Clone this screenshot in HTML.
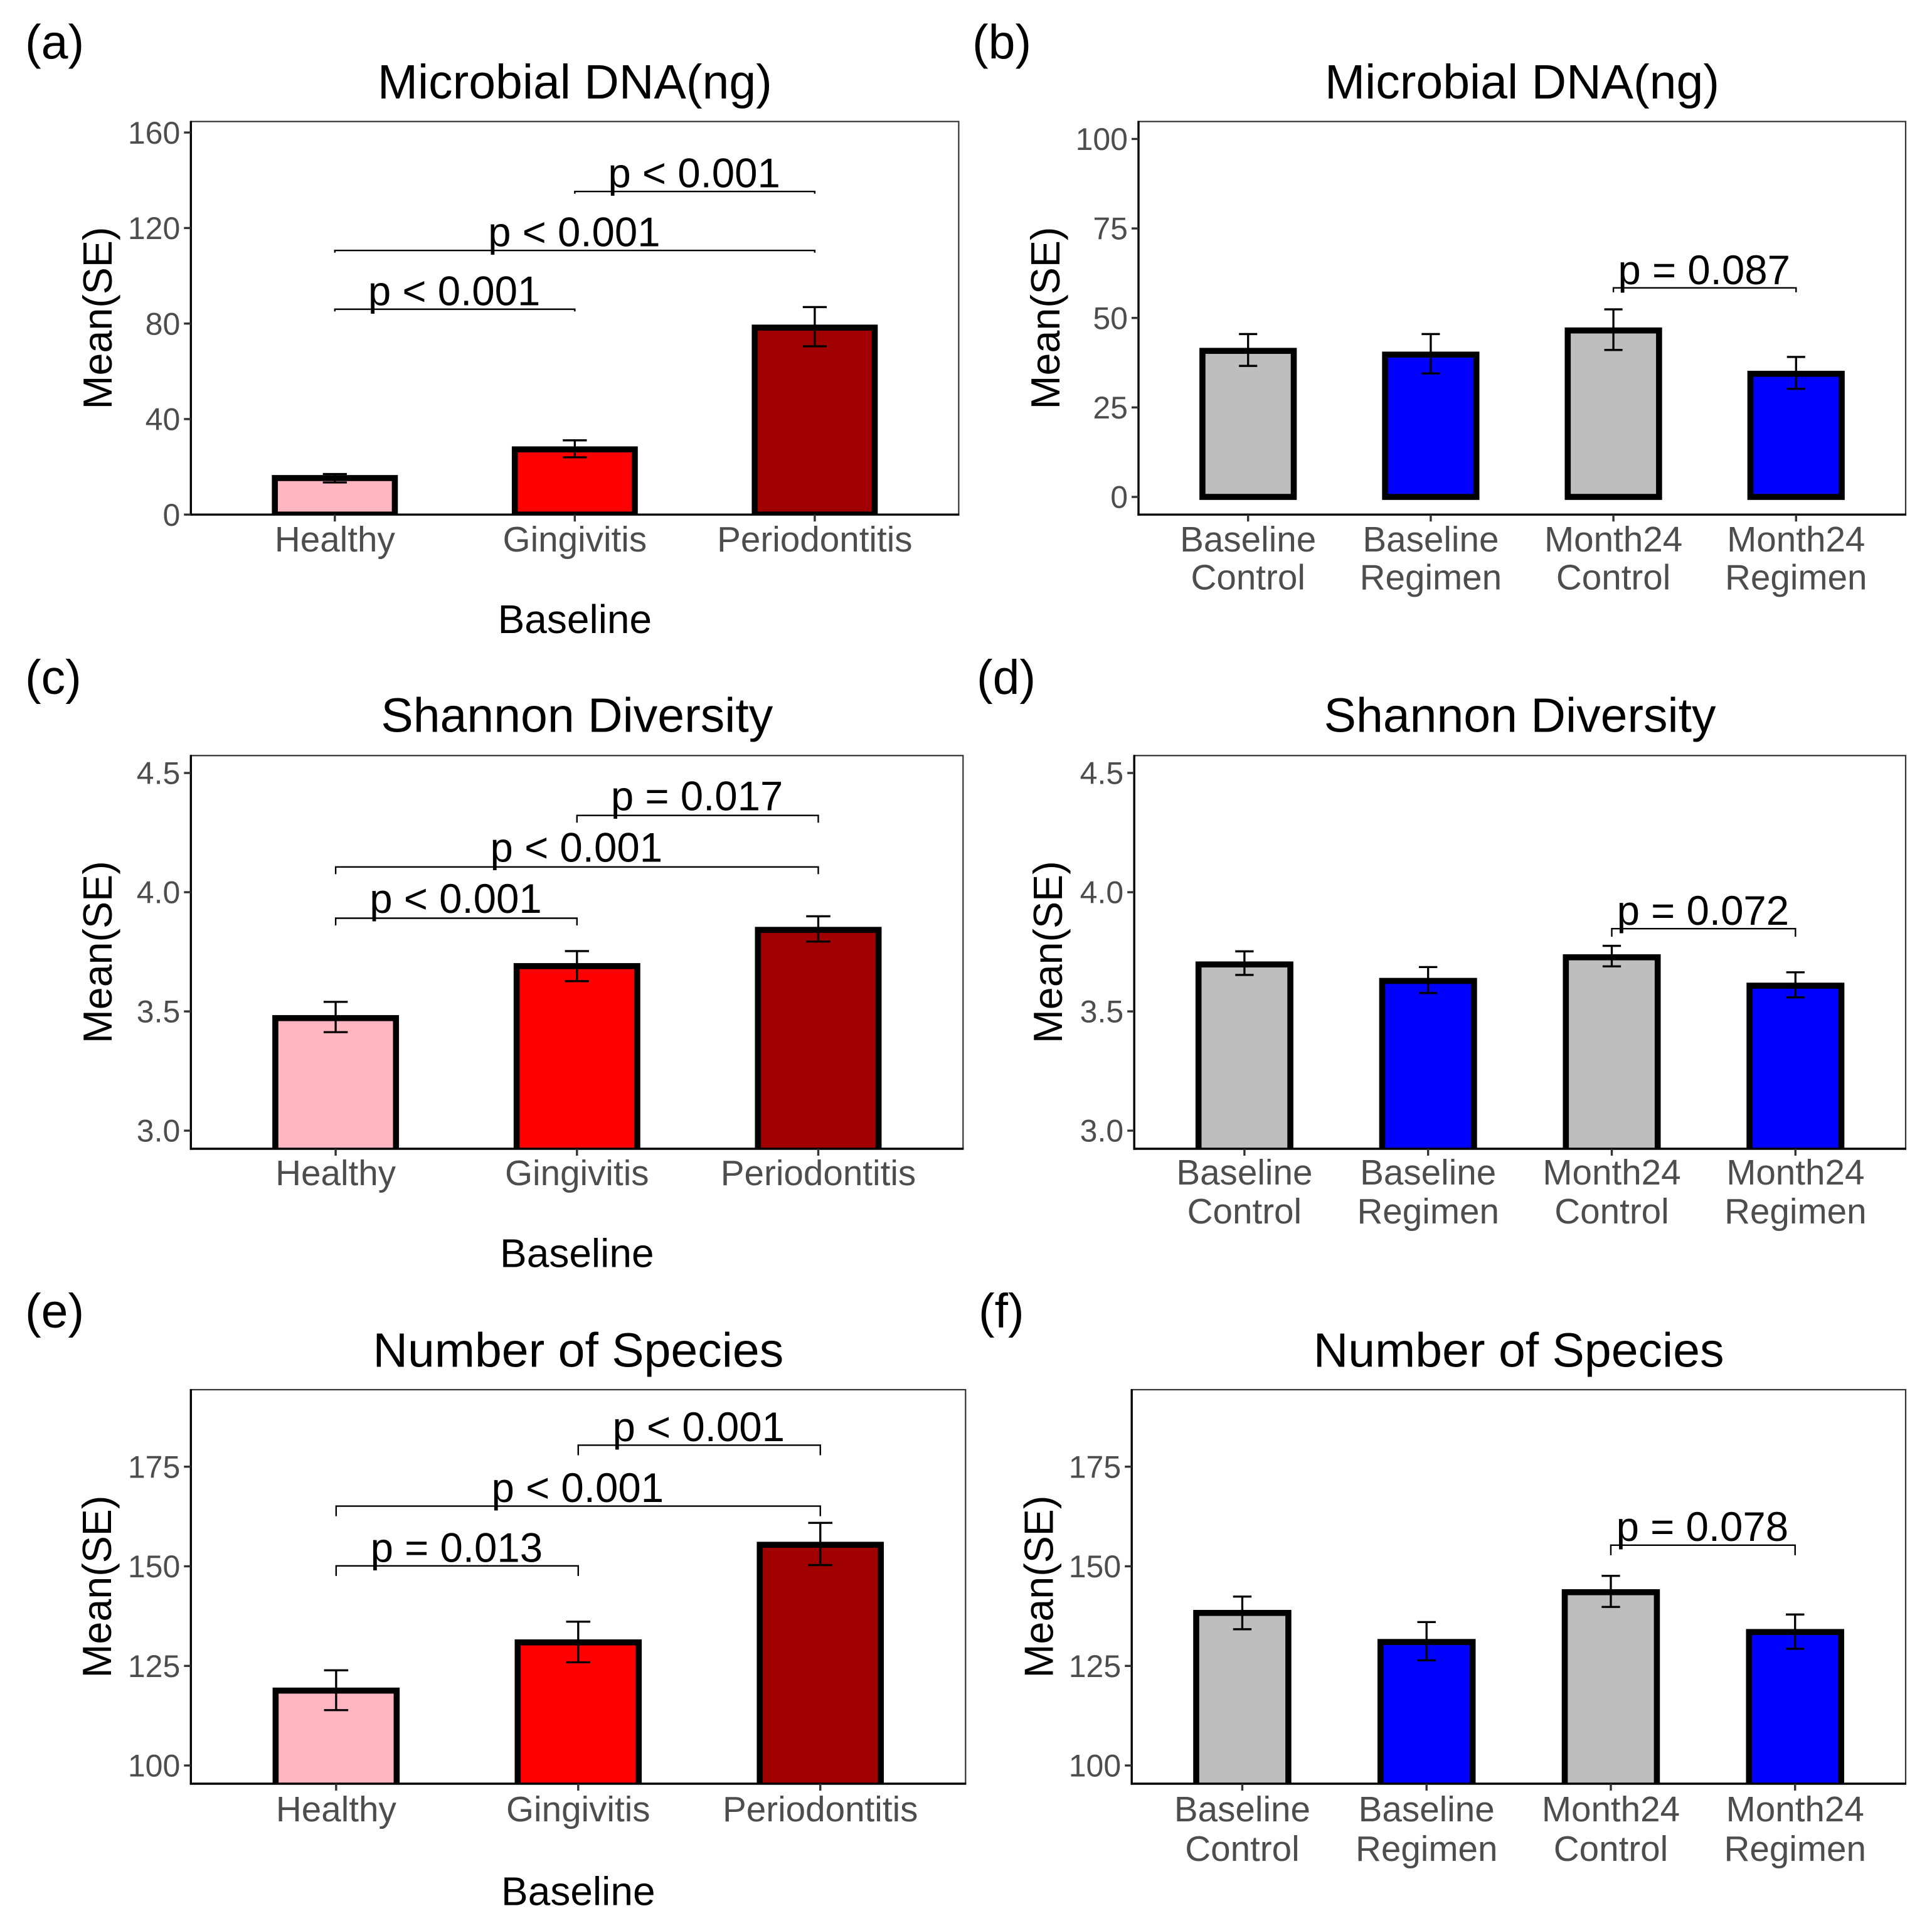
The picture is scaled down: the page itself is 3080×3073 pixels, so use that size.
<!DOCTYPE html>
<html lang="en">
<head>
<meta charset="utf-8">
<title>Microbial DNA, Shannon Diversity and Number of Species</title>
<style>
html,body{margin:0;padding:0;background:#fff;}
svg{display:block;font-family:"Liberation Sans",Arial,sans-serif;}
</style>
</head>
<body>
<svg id="figure" xmlns="http://www.w3.org/2000/svg" width="3080" height="3073" viewBox="0 0 3080 3073"></svg>
<script>
// ---- categories ----
const stageCategories = ["Healthy", "Gingivitis", "Periodontitis"];
const visitCategories = [["Baseline", "Control"], ["Baseline", "Regimen"], ["Month24", "Control"], ["Month24", "Regimen"]];
const stageColors = ["#FFB6C1", "#FF0000", "#A00000"];
const visitColors = ["#BEBEBE", "#0000FF", "#BEBEBE", "#0000FF"];

// ---- panel (a) ----
const dnaStageMeans = [15.3, 27.3, 78.3];
const dnaStageUpper = [17.0, 31.1, 86.9];
const dnaStageLower = [13.45, 24.0, 70.5];
const dnaStageTicks = [0, 40, 80, 120, 160];
const dnaStageDomain = [0, 164.6];
const dnaStageBracketFrom = [0, 0, 1];
const dnaStageBracketTo = [1, 2, 2];
const dnaStageBracketValue = [86, 110.6, 135.3];
const dnaStageBracketLabel = ["p < 0.001", "p < 0.001", "p < 0.001"];

// ---- panel (b) ----
const dnaVisitMeans = [40.8, 39.75, 46.5, 34.4];
const dnaVisitUpper = [45.5, 45.5, 52.4, 39.1];
const dnaVisitLower = [36.6, 34.5, 41.05, 30.2];
const dnaVisitTicks = [0, 25, 50, 75, 100];
const dnaVisitDomain = [-4.94, 104.87];
const dnaVisitBracketFrom = [2];
const dnaVisitBracketTo = [3];
const dnaVisitBracketValue = [58.4];
const dnaVisitBracketLabel = ["p = 0.087"];

// ---- panel (c) ----
const shannonStageMeans = [3.472, 3.69, 3.842];
const shannonStageUpper = [3.54, 3.753, 3.899];
const shannonStageLower = [3.413, 3.627, 3.793];
const shannonTicks = [3.0, 3.5, 4.0, 4.5];
const shannonTickLabels = ["3.0", "3.5", "4.0", "4.5"];
const shannonDomain = [2.924, 4.573];
const shannonStageBracketFrom = [0, 0, 1];
const shannonStageBracketTo = [1, 2, 2];
const shannonStageBracketValue = [3.891, 4.106, 4.322];
const shannonStageBracketLabel = ["p < 0.001", "p < 0.001", "p = 0.017"];

// ---- panel (d) ----
const shannonVisitMeans = [3.697, 3.628, 3.727, 3.608];
const shannonVisitUpper = [3.752, 3.686, 3.775, 3.664];
const shannonVisitLower = [3.653, 3.577, 3.689, 3.559];
const shannonVisitBracketFrom = [2];
const shannonVisitBracketTo = [3];
const shannonVisitBracketValue = [3.847];
const shannonVisitBracketLabel = ["p = 0.072"];

// ---- panel (e) ----
const speciesStageMeans = [118.8, 130.9, 155.4];
const speciesStageUpper = [123.9, 136.1, 160.9];
const speciesStageLower = [113.9, 125.9, 150.3];
const speciesTicks = [100, 125, 150, 175];
const speciesDomain = [95.43, 194.33];
const speciesStageBracketFrom = [0, 0, 1];
const speciesStageBracketTo = [1, 2, 2];
const speciesStageBracketValue = [150.1, 165.1, 180.4];
const speciesStageBracketLabel = ["p = 0.013", "p < 0.001", "p < 0.001"];

// ---- panel (f) ----
const speciesVisitMeans = [138.3, 131, 143.5, 133.5];
const speciesVisitUpper = [142.4, 136, 147.6, 137.9];
const speciesVisitLower = [134.2, 126.4, 139.8, 129.3];
const speciesVisitBracketFrom = [2];
const speciesVisitBracketTo = [3];
const speciesVisitBracketValue = [155.3];
const speciesVisitBracketLabel = ["p = 0.078"];

const panels = [
  {id:"a", title:"Microbial DNA(ng)", cats:stageCategories, colors:stageColors, means:dnaStageMeans, upper:dnaStageUpper, lower:dnaStageLower, ticks:dnaStageTicks, tickLabels:dnaStageTicks, domain:dnaStageDomain, bFrom:dnaStageBracketFrom, bTo:dnaStageBracketTo, bVal:dnaStageBracketValue, bLab:dnaStageBracketLabel, xTitle:"Baseline",
   box:{l:304.3,r:1528.4,t:193.7,b:820.2}, tip:3.5, gap:6.6, letterX:40, letterY:93.5, titleY:157.2, yTitleX:178, tickY:878.8, lineGap:60.5, xTitleY:1008.8},
  {id:"b", title:"Microbial DNA(ng)", cats:visitCategories, colors:visitColors, means:dnaVisitMeans, upper:dnaVisitUpper, lower:dnaVisitLower, ticks:dnaVisitTicks, tickLabels:dnaVisitTicks, domain:dnaVisitDomain, bFrom:dnaVisitBracketFrom, bTo:dnaVisitBracketTo, bVal:dnaVisitBracketValue, bLab:dnaVisitBracketLabel,
   box:{l:1815,r:3038,t:193.7,b:820.2}, tip:7, gap:6, letterX:1550, letterY:93.5, titleY:157.2, yTitleX:1689, tickY:878.8, lineGap:60.5},
  {id:"c", title:"Shannon Diversity", cats:stageCategories, colors:stageColors, means:shannonStageMeans, upper:shannonStageUpper, lower:shannonStageLower, ticks:shannonTicks, tickLabels:shannonTickLabels, domain:shannonDomain, bFrom:shannonStageBracketFrom, bTo:shannonStageBracketTo, bVal:shannonStageBracketValue, bLab:shannonStageBracketLabel, xTitle:"Baseline",
   box:{l:304.3,r:1535.3,t:1204.3,b:1831}, tip:11.5, gap:8.3, letterX:40, letterY:1105.8, titleY:1166.4, yTitleX:178, tickY:1889, lineGap:62, xTitleY:2019.7},
  {id:"d", title:"Shannon Diversity", cats:visitCategories, colors:visitColors, means:shannonVisitMeans, upper:shannonVisitUpper, lower:shannonVisitLower, ticks:shannonTicks, tickLabels:shannonTickLabels, domain:shannonDomain, bFrom:shannonVisitBracketFrom, bTo:shannonVisitBracketTo, bVal:shannonVisitBracketValue, bLab:shannonVisitBracketLabel,
   box:{l:1808.2,r:3038,t:1204.3,b:1831}, tip:12.8, gap:6.4, letterX:1557, letterY:1105.8, titleY:1166.4, yTitleX:1693, tickY:1888, lineGap:62},
  {id:"e", title:"Number of Species", cats:stageCategories, colors:stageColors, means:speciesStageMeans, upper:speciesStageUpper, lower:speciesStageLower, ticks:speciesTicks, tickLabels:speciesTicks, domain:speciesDomain, bFrom:speciesStageBracketFrom, bTo:speciesStageBracketTo, bVal:speciesStageBracketValue, bLab:speciesStageBracketLabel, xTitle:"Baseline",
   box:{l:304.3,r:1539.3,t:2215,b:2843}, tip:16, gap:6.6, letterX:40, letterY:2115.8, titleY:2178.4, yTitleX:177, tickY:2903, lineGap:62, xTitleY:3036.7},
  {id:"f", title:"Number of Species", cats:visitCategories, colors:visitColors, means:speciesVisitMeans, upper:speciesVisitUpper, lower:speciesVisitLower, ticks:speciesTicks, tickLabels:speciesTicks, domain:speciesDomain, bFrom:speciesVisitBracketFrom, bTo:speciesVisitBracketTo, bVal:speciesVisitBracketValue, bLab:speciesVisitBracketLabel,
   box:{l:1804.2,r:3038,t:2215,b:2843}, tip:16, gap:6.6, letterX:1560, letterY:2115.8, titleY:2178.4, yTitleX:1678.4, tickY:2903, lineGap:63}
];

const NS = "http://www.w3.org/2000/svg";
const root = document.getElementById("figure");

function make(tag, attrs, parent, text) {
  const el = document.createElementNS(NS, tag);
  for (const k in attrs) el.setAttribute(k, attrs[k]);
  if (text !== undefined) el.textContent = text;
  parent.appendChild(el);
  return el;
}

function drawPanel(p) {
  const box = p.box;
  const n = p.cats.length;
  const step = (box.r - box.l) / (n - 1 + 1.2);
  const xScale = function (i) { return box.l + 0.6 * step + i * step; };
  const yScale = function (v) {
    return box.b - (v - p.domain[0]) / (p.domain[1] - p.domain[0]) * (box.b - box.t);
  };
  const midX = (box.l + box.r) / 2;
  const midY = (box.t + box.b) / 2;

  const g = make("g", {}, root);
  
  

  const letter = make("text", {x:p.letterX, y:p.letterY, "font-size":77, fill:"#000"}, g, "(" + p.id + ")");
  
  

  const title = make("text", {x:midX, y:p.titleY, "font-size":77, fill:"#000", "text-anchor":"middle"}, g, p.title);
  
  

  const clip = make("clipPath", {id:"clip-" + p.id}, g);
  make("rect", {x:box.l, y:box.t, width:box.r - box.l, height:box.b - box.t}, clip);

  const plot = make("g", {"clip-path":"url(#clip-" + p.id + ")"}, g);
  
  

  const barW = step * 0.5;
  const capW = step * 0.1;
  const baseY = yScale(Math.max(0, p.domain[0] < 0 ? 0 : p.domain[0])) + (p.domain[0] > 0 ? 40 : 0);

  p.means.forEach(function (m, i) {
    const top = yScale(m);
    const bar = make("rect", {x:xScale(i) - barW / 2, y:top, width:barW, height:baseY - top, fill:p.colors[i], stroke:"#000", "stroke-width":9.6}, plot);
    
    
  });

  p.means.forEach(function (m, i) {
    const cx = xScale(i);
    const up = yScale(p.upper[i]);
    const lo = yScale(p.lower[i]);
    const err = make("path", {
      d:"M" + (cx - capW / 2) + " " + up + "H" + (cx + capW / 2) + "M" + cx + " " + up + "V" + lo + "M" + (cx - capW / 2) + " " + lo + "H" + (cx + capW / 2),
      fill:"none", stroke:"#000", "stroke-width":3.3
    }, plot);
    
    
  });

  p.bVal.forEach(function (v, i) {
    const x1 = xScale(p.bFrom[i]);
    const x2 = xScale(p.bTo[i]);
    const y = yScale(v);
    const br = make("path", {
      d:"M" + x1 + " " + (y + p.tip) + "V" + y + "H" + x2 + "V" + (y + p.tip),
      fill:"none", stroke:"#000", "stroke-width":2.4
    }, plot);
    
    
    const lab = make("text", {x:(x1 + x2) / 2 - 1, y:y - p.gap, "font-size":65.4, fill:"#000", "text-anchor":"middle"}, g, p.bLab[i]);
    
    
  });

  const border = make("rect", {x:box.l, y:box.t, width:box.r - box.l, height:box.b - box.t, fill:"none", stroke:"#333", "stroke-width":2.2}, g);
  
  

  const yAxis = make("line", {x1:box.l, x2:box.l, y1:box.t - 1, y2:box.b + 1.6, stroke:"#000", "stroke-width":3.4}, g);
  
  

  const xAxis = make("line", {x1:box.l - 1.6, x2:box.r + 1, y1:box.b, y2:box.b, stroke:"#000", "stroke-width":3.4}, g);
  
  

  p.ticks.forEach(function (t, i) {
    const y = yScale(t);
    const mark = make("line", {x1:box.l - 11, x2:box.l, y1:y, y2:y, stroke:"#333", "stroke-width":3.4}, g);
    
    
    const lab = make("text", {x:box.l - 17, y:y + 17.6, "font-size":50, fill:"#4D4D4D", "text-anchor":"end"}, g, String(p.tickLabels[i]));
    
    
  });

  p.cats.forEach(function (c, i) {
    const x = xScale(i);
    const mark = make("line", {x1:x, x2:x, y1:box.b, y2:box.b + 11, stroke:"#333", "stroke-width":3.4}, g);
    
    
    const lines = Array.isArray(c) ? c : [c];
    const lab = make("text", {"font-size":56.6, fill:"#4D4D4D", "text-anchor":"middle"}, g);
    
    
    lines.forEach(function (line, k) {
      make("tspan", {x:x, y:p.tickY + k * p.lineGap}, lab, line);
    });
  });

  const yTitle = make("text", {transform:"translate(" + p.yTitleX + " " + midY + ") rotate(-90)", "font-size":64.6, fill:"#000", "text-anchor":"middle"}, g, "Mean(SE)");
  
  

  if (p.xTitle) {
    const xTitle = make("text", {x:midX, y:p.xTitleY, "font-size":64, fill:"#000", "text-anchor":"middle"}, g, p.xTitle);
    
    
  }
}

panels.forEach(drawPanel);
</script>
</body>
</html>
